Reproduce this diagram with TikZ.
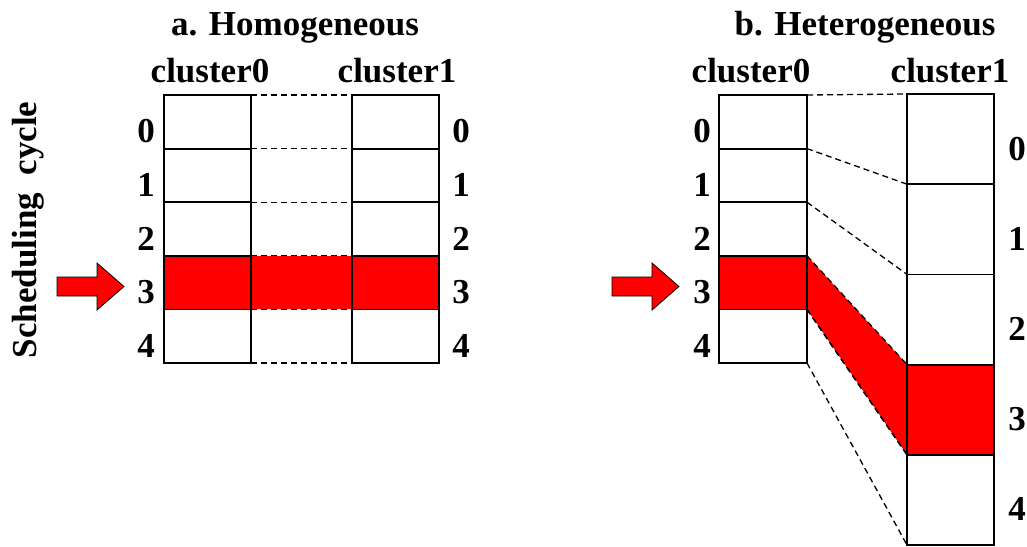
\documentclass[tikz,border=0pt]{standalone}
\usepackage{fontspec}
\setmainfont{Liberation Serif}
\begin{document}
\begin{tikzpicture}[x=1pt,y=-1pt,
  cell/.style={draw=black,line width=1.8pt,minimum width=#1,minimum height=53.6pt,inner sep=0pt,outer sep=0pt},
  tallcell/.style={draw=black,line width=1.8pt,minimum width=87pt,minimum height=90.2pt,inner sep=0pt,outer sep=0pt},
  hot/.style={fill=red},
  lbl/.style={font=\fontsize{35}{38}\selectfont\bfseries,inner sep=0pt,anchor=base},
  dsh/.style={line width=1.3pt,dash pattern=on 6pt off 4pt},
  blk/.style={fill=red,draw=black,line width=0.8pt,line join=miter}]
\useasboundingbox (0,0) rectangle (1027,546);
% ---------- a. Homogeneous ----------
\node[lbl] (ta) at (295,35) {a. Homogeneous};
\node[lbl] (a0h) at (210,82) {cluster0};
\node[lbl] (a1h) at (397,82) {cluster1};
\foreach \i in {0,...,4}{
  \node[cell=87pt] (a0\i) at (207.5,{121.8+53.6*\i}) {};
  \node[cell=87pt] (a1\i) at (395.5,{121.8+53.6*\i}) {};
}
\fill[red] (a03.north east) -- (a13.north west) -- (a13.south west) -- (a03.south east) -- cycle;
\node[cell=87pt,hot] (a03r) at (a03) {};
\node[cell=87pt,hot] (a13r) at (a13) {};
\foreach \i in {0,...,4}{
  \draw[dsh] (a0\i.north east) -- (a1\i.north west);
  \node[lbl] (al\i) at (146,{142.8+53.6*\i}) {\i};
  \node[lbl] (ar\i) at (461,{142.8+53.6*\i}) {\i};
}
\draw[dsh] (a04.south east) -- (a14.south west);
\node[lbl,rotate=90] (sc) at (36,230) {Scheduling\ \ cycle};
\draw[blk] (57,277) -- (97,277) -- (97,263) -- (124,286.5) -- (97,310) -- (97,296) -- (57,296) -- cycle;
% ---------- b. Heterogeneous ----------
\node[lbl] (tb) at (865,35) {b. Heterogeneous};
\node[lbl] (b0h) at (751,82) {cluster0};
\node[lbl] (b1h) at (950,82) {cluster1};
\foreach \i in {0,...,4}{
  \node[cell=88pt] (b0\i) at (763,{121.8+53.6*\i}) {};
  \node[tallcell] (b1\i) at (950.5,{139.1+90.2*\i}) {};
}
\fill[red] (b03.north east) -- (b13.north west) -- (b13.south west) -- (b03.south east) -- cycle;
\node[cell=88pt,hot] (b03r) at (b03) {};
\node[tallcell,hot] (b13r) at (b13) {};
\foreach \i in {0,...,4}{
  \draw[dsh] (b0\i.north east) -- (b1\i.north west);
  \node[lbl] (bl\i) at (702,{142.8+53.6*\i}) {\i};
  \node[lbl] (br\i) at (1017,{160.1+90.2*\i}) {\i};
}
\draw[dsh] (b03.south east) -- (b13.south west);
\draw[dsh] (b04.south east) -- (b14.south west);
\draw[blk] (612,277) -- (652,277) -- (652,263) -- (679,286.5) -- (652,310) -- (652,296) -- (612,296) -- cycle;
\end{tikzpicture}
\end{document}
